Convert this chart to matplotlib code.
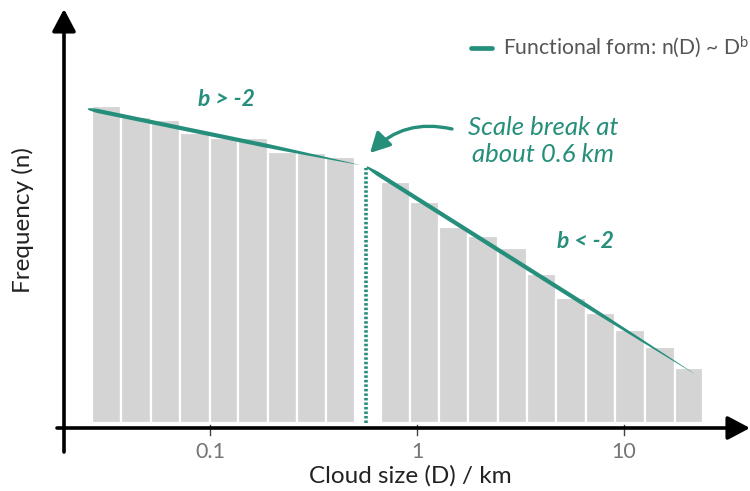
import numpy as np
import matplotlib
matplotlib.use("Agg")
import matplotlib.pyplot as plt
from matplotlib.patches import Polygon
from matplotlib.transforms import IdentityTransform

plt.rcParams['font.family'] = ['Lato', 'DejaVu Sans']
plt.rcParams['mathtext.fontset'] = 'custom'
plt.rcParams['mathtext.rm'] = 'Lato'
plt.rcParams['mathtext.it'] = 'Lato:italic'

# ---------------- data ----------------
# histogram bins (cloud size, km) below and above the scale break
small_edges = [0.027, 0.037, 0.052, 0.072, 0.1, 0.137, 0.19, 0.263, 0.363, 0.50]
small_freq = [317, 306, 303, 290, 285, 285, 271, 270, 266]
large_edges = [0.67, 0.925, 1.28, 1.76, 2.46, 3.4, 4.7, 6.55, 9.05, 12.6, 17.6, 24.1]
large_freq = [241, 221, 196, 187, 175, 149, 125, 110, 93, 76, 55]

# power-law fits (start/end points)
fit_small_x = [0.0258, 0.531]
fit_small_y = [314, 258]
fit_large_x = [0.573, 22.0]
fit_large_y = [256, 49]

scale_break = 0.567
tick_values = [0.1, 1, 10]
tick_labels = ["0.1", "1", "10"]

TEAL = "#268f7b"
BAR = "#d4d4d4"

W, H = 750, 491
fig = plt.figure(figsize=(7.5, 4.91), dpi=100)
ax = fig.add_axes([0, 0, 1, 1])
ax.set_xscale('log')
ax.set_xlim(10 ** -2.0145, 10 ** 1.6087)
ax.set_ylim(-68, 423)
ax.axis('off')


def px(x, y):
    return (x / W, 1 - y / H)


# bars
for edges, freq in [(small_edges, small_freq), (large_edges, large_freq)]:
    e = np.array(edges)
    ax.bar(e[:-1], freq, width=np.diff(e), align='edge', color=BAR,
           edgecolor='white', linewidth=1.6, zorder=1)


def brush(xs, ys, maxw_px, n=100):
    """Tapered brush stroke between two data points, drawn as a polygon."""
    p0 = ax.transData.transform((xs[0], ys[0]))
    p1 = ax.transData.transform((xs[1], ys[1]))
    t = np.linspace(0, 1, n)
    pts = p0[None, :] + t[:, None] * (p1 - p0)[None, :]
    d = (p1 - p0) / np.hypot(*(p1 - p0))
    nrm = np.array([-d[1], d[0]])
    prof = np.minimum(1, np.minimum(t / 0.05 + 0.35, (1 - t) / 0.35))
    prof = np.clip(prof, 0.0, 1) ** 0.8
    half = 0.5 * maxw_px * prof
    upper = pts + half[:, None] * nrm
    lower = pts - half[:, None] * nrm
    poly = np.vstack([upper, lower[::-1]])
    ax.add_patch(Polygon(poly, closed=True, transform=IdentityTransform(),
                         facecolor=TEAL, edgecolor='none', zorder=3))


brush(fit_small_x, fit_small_y, 4.2)
brush(fit_large_x, fit_large_y, 4.2)

# scale-break dotted line
ax.plot([scale_break, scale_break], [0, 255], color=TEAL, lw=2.6,
        linestyle=(0, (0.7, 0.55)), solid_capstyle='butt', zorder=3)

# axes arrows
arrow_kw = dict(arrowstyle='-|>,head_length=0.68,head_width=0.36',
                color='black', lw=2.6, mutation_scale=20, shrinkA=0, shrinkB=0)
ax.annotate('', xy=px(64, 9), xytext=px(64, 452), xycoords='figure fraction',
            textcoords='figure fraction', arrowprops=arrow_kw, zorder=5)
ax.annotate('', xy=px(750, 428), xytext=px(57, 428), xycoords='figure fraction',
            textcoords='figure fraction', arrowprops=arrow_kw, zorder=5)

# ticks
for v, lab in zip(tick_values, tick_labels):
    ax.plot([v, v], [-2, -12], color='#444444', lw=1, zorder=4, clip_on=False)
    ax.text(v, -29, lab, ha='center', va='center', fontsize=15.5, color='#757575')

# axis labels
fig.text(*px(410, 476), "Cloud size (D) / km", ha='center', va='center',
         fontsize=17.5, color='#222222')
fig.text(*px(23, 220), "Frequency (n)", ha='center', va='center',
         fontsize=17.5, color='#222222', rotation=90)

# annotations
fig.text(*px(226, 100), "b > -2", ha='center', va='center',
         fontsize=16.5, color=TEAL, fontweight='bold', style='italic')
fig.text(*px(585, 241), "b < -2", ha='center', va='center',
         fontsize=16.5, color=TEAL, fontweight='bold', style='italic')
fig.text(*px(543, 141), "Scale break at\nabout 0.6 km", ha='center', va='center',
         fontsize=18.5, color=TEAL, style='italic', linespacing=1.25)

ax.annotate('', xy=px(370, 153), xytext=px(452, 129), xycoords='figure fraction',
            textcoords='figure fraction',
            arrowprops=dict(arrowstyle='-|>,head_length=0.8,head_width=0.42',
                            color=TEAL, lw=2.4, mutation_scale=15,
                            shrinkA=0, shrinkB=0,
                            connectionstyle='arc3,rad=0.28'), zorder=5)

# legend
fig.add_artist(plt.Line2D([471 / W, 492 / W], [1 - 48 / H, 1 - 48 / H],
                          color=TEAL, lw=3.4, solid_capstyle='round'))
fig.text(*px(503, 47), r"Functional form: n(D) ~ D$^{\mathrm{b}}$", ha='left',
         va='center', fontsize=15.2, color='#555555')

fig.savefig("out.png", dpi=100, facecolor='white')
